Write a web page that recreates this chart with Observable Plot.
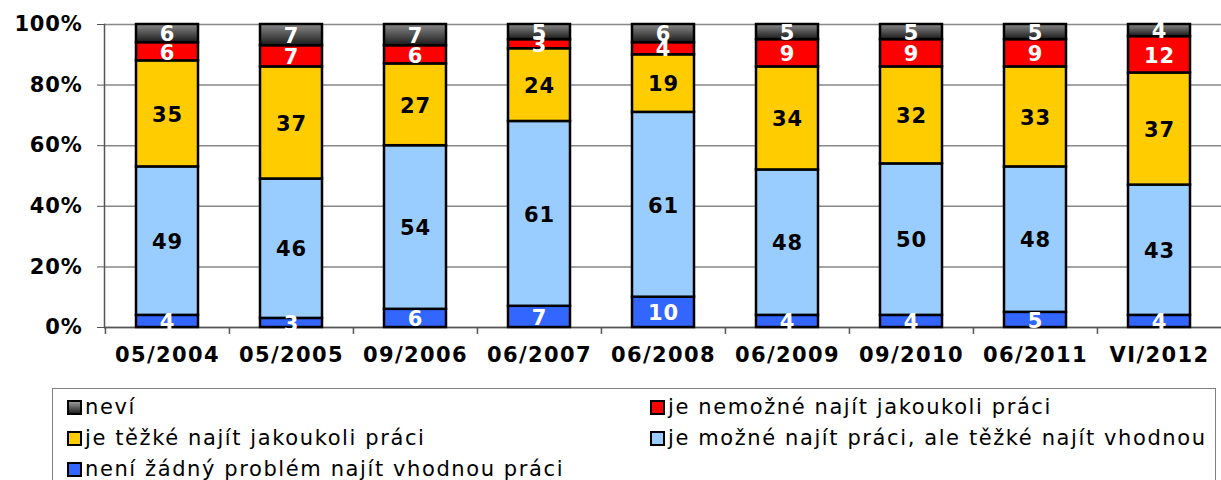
<!DOCTYPE html>
<html>
<head>
<meta charset="utf-8">
<script src="https://cdn.jsdelivr.net/npm/d3@7"></script>
<script src="https://cdn.jsdelivr.net/npm/@observablehq/plot@0.6"></script>
<style>
  body { margin: 0; background: #fff; font-family: "DejaVu Sans", Verdana, sans-serif; }
  #wrap { position: relative; width: 1221px; height: 480px; overflow: hidden; }
  #legend { position: absolute; left: 52px; top: 388px; width: 1164px; height: 100px; border: 1px solid #808080; box-sizing: border-box; font-size: 21px; letter-spacing: 1.6px; color: #000; }
  .item { position: absolute; display: flex; align-items: center; white-space: nowrap; }
  .sw { width: 11px; height: 11px; border: 2px solid #000; margin-right: 3px; box-sizing: content-box; }
  #chart g[aria-label="x-axis tick label"] text { letter-spacing: 1.4px; }
  #chart g[aria-label="y-axis tick label"] text { letter-spacing: 0.8px; }
  #chart g[aria-label="text"] text { letter-spacing: 1px; }
</style>
</head>
<body>
<div id="wrap">
  <div id="chart"></div>
  <div id="legend"></div>
</div>
<script>
const categories = ["05/2004", "05/2005", "09/2006", "06/2007", "06/2008", "06/2009", "09/2010", "06/2011", "VI/2012"];
const seriesNames = [
  "není žádný problém najít vhodnou práci",
  "je možné najít práci, ale těžké najít vhodnou",
  "je těžké najít jakoukoli práci",
  "je nemožné najít jakoukoli práci",
  "neví"
];
const noProblem   = [4, 3, 6, 7, 10, 4, 4, 5, 4];
const possible    = [49, 46, 54, 61, 61, 48, 50, 48, 43];
const hardAny     = [35, 37, 27, 24, 19, 34, 32, 33, 37];
const impossible  = [6, 7, 6, 3, 4, 9, 9, 9, 12];
const dontKnow    = [6, 7, 7, 5, 6, 5, 5, 5, 4];
const yTicks = [0, 20, 40, 60, 80, 100];

const seriesColors = ["#3366FF", "#99CCFF", "#FFCC00", "#FF0000", "url(#grayGrad)"];
const labelColors = ["#fff", "#000", "#000", "#fff", "#fff"];
const valueArrays = [noProblem, possible, hardAny, impossible, dontKnow];

const data = [];
seriesNames.forEach((s, si) => {
  categories.forEach((c, ci) => {
    data.push({cat: c, series: s, si, value: valueArrays[si][ci]});
  });
});

const W = 1221, H = 385;
const mL = 104;
const pInner = 0.5, pOuter = 0.25;
const step = (W - mL) / (categories.length - pInner + 2 * pOuter);

const chart = Plot.plot({
  width: W,
  height: H,
  marginLeft: mL,
  marginRight: 0,
  marginTop: 24,
  marginBottom: 58,
  style: {fontFamily: "DejaVu Sans, Verdana, sans-serif", fontSize: "20px", fontWeight: "bold", color: "#000", background: "#fff", overflow: "visible"},
  x: {domain: categories, paddingInner: pInner, paddingOuter: pOuter, label: null},
  y: {domain: [0, 100], label: null},
  color: {domain: seriesNames, range: seriesColors},
  marks: [
    Plot.gridY(yTicks, {stroke: "#888", strokeOpacity: 1, strokeWidth: 1.5}),
    Plot.axisY(yTicks, {tickFormat: d => d + "%", tickSize: 7, tickPadding: 15, fontSize: 21, fontWeight: "bold", stroke: "#555"}),
    Plot.axisX({tickSize: 0, tickPadding: 20, fontSize: 21, fontWeight: "bold"}),
    Plot.ruleX(categories, {x: d => d, y1: 0, y2: -2.3, dx: -step / 2, stroke: "#555", strokeWidth: 1.5, clip: false}),
    Plot.ruleY([0], {stroke: "#555", strokeWidth: 1.5}),
    Plot.frame({anchor: "left", stroke: "#555", strokeWidth: 1.5}),
    Plot.barY(data, Plot.stackY({x: "cat", y: "value", z: "series", order: seriesNames, fill: "series", stroke: "#000", strokeWidth: 2.5})),
    Plot.text(data, Plot.stackY({x: "cat", y: "value", z: "series", order: seriesNames, text: d => String(d.value), fill: d => labelColors[d.si], fontSize: 21, fontWeight: "bold", dy: 1}))
  ]
});

// gradient for the "neví" segment
const svg = d3.select(chart);
const defs = svg.insert("defs", ":first-child");
const g = defs.append("linearGradient").attr("id", "grayGrad").attr("x1", 0).attr("y1", 0).attr("x2", 0).attr("y2", 1);
g.append("stop").attr("offset", "0%").attr("stop-color", "#8a8a8a");
g.append("stop").attr("offset", "100%").attr("stop-color", "#1a1a1a");

document.getElementById("chart").appendChild(chart);

// legend
const legendItems = [
  {name: seriesNames[4], col: 0, row: 0, color: "linear-gradient(#999,#222)"},
  {name: seriesNames[3], col: 1, row: 0, color: seriesColors[3]},
  {name: seriesNames[2], col: 0, row: 1, color: seriesColors[2]},
  {name: seriesNames[1], col: 1, row: 1, color: seriesColors[1]},
  {name: seriesNames[0], col: 0, row: 2, color: seriesColors[0]}
];
const legend = document.getElementById("legend");
legendItems.forEach(it => {
  const div = document.createElement("div");
  div.className = "item";
  div.style.left = (it.col === 0 ? 14 : 597) + "px";
  div.style.top = (4 + it.row * 31) + "px";
  div.style.height = "28px";
  const sw = document.createElement("span");
  sw.className = "sw";
  sw.style.background = it.color;
  const tx = document.createElement("span");
  tx.textContent = it.name;
  div.appendChild(sw);
  div.appendChild(tx);
  legend.appendChild(div);
});
</script>
</body>
</html>
